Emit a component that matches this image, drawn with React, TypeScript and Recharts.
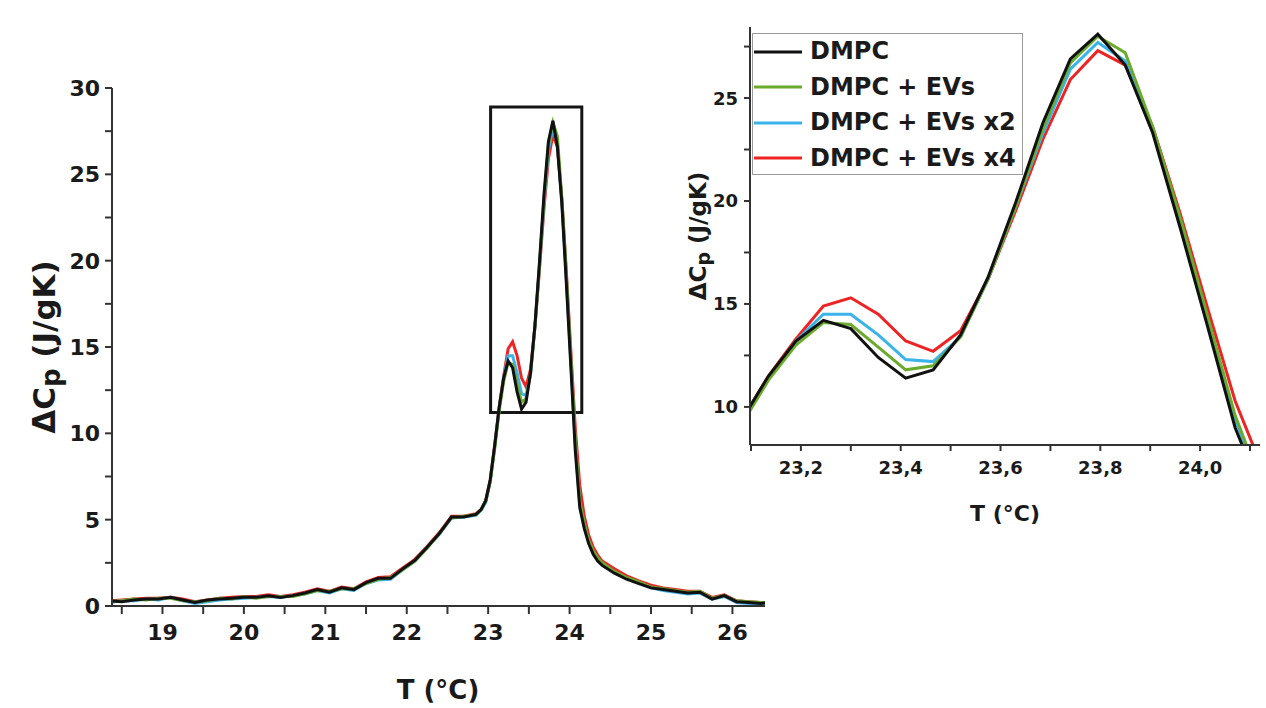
import React from 'react';
import { LineChart, Line, XAxis, YAxis, ReferenceArea, Legend } from 'recharts';

// Temperature grid (°C)
const TEMPS = [
  18.35, 18.5, 18.65, 18.8, 18.95, 19.1, 19.25, 19.4, 19.55, 19.7, 19.85, 20.0, 20.15, 20.3, 20.45, 20.6,
  20.75, 20.9, 21.05, 21.2, 21.35, 21.5, 21.65, 21.8, 21.95, 22.1, 22.25, 22.4, 22.55, 22.7, 22.85,
  22.915, 22.97, 23.025, 23.08, 23.135, 23.19, 23.245, 23.3, 23.355, 23.41, 23.465, 23.52, 23.575, 23.63,
  23.685, 23.74, 23.795, 23.85, 23.905, 23.96, 24.015, 24.07, 24.125, 24.18, 24.235, 24.29, 24.345, 24.4,
  24.55, 24.7, 24.85, 25.0, 25.15, 25.3, 25.45, 25.6, 25.75, 25.9, 26.05, 26.2, 26.35, 26.45,
];

// ΔCp (J/gK)
const DMPC = [
  0.3, 0.25, 0.35, 0.4, 0.4, 0.5, 0.35, 0.2, 0.35, 0.4, 0.45, 0.5, 0.5, 0.6, 0.5, 0.6,
  0.75, 0.95, 0.8, 1.05, 0.95, 1.35, 1.6, 1.6, 2.15, 2.65, 3.4, 4.2, 5.15, 5.15, 5.3,
  5.6, 6.1, 7.3, 9.3, 11.5, 13.2, 14.2, 13.8, 12.4, 11.4, 11.8, 13.5, 16.3, 19.9,
  23.8, 26.9, 28.1, 26.6, 23.3, 18.7, 13.9, 9.0, 5.7, 4.5, 3.6, 3.0, 2.6, 2.35,
  1.9, 1.55, 1.3, 1.05, 0.95, 0.85, 0.75, 0.8, 0.4, 0.6, 0.25, 0.2, 0.15, 0.2,
];
const DMPC_EVS = [
  0.25, 0.3, 0.4, 0.35, 0.45, 0.45, 0.3, 0.25, 0.3, 0.45, 0.4, 0.55, 0.45, 0.55, 0.55, 0.55,
  0.7, 0.9, 0.85, 1.0, 1.0, 1.3, 1.55, 1.65, 2.1, 2.6, 3.35, 4.2, 5.1, 5.2, 5.3,
  5.6, 6.1, 7.2, 9.1, 11.3, 13.0, 14.1, 14.0, 12.9, 11.8, 12.0, 13.4, 16.2, 19.7,
  23.5, 26.7, 28.0, 27.2, 23.6, 19.2, 14.4, 9.6, 6.1, 4.8, 3.8, 3.2, 2.8, 2.5,
  2.0, 1.65, 1.4, 1.1, 1.0, 0.9, 0.8, 0.85, 0.45, 0.6, 0.3, 0.25, 0.2, 0.2,
];
const DMPC_EVS_X2 = [
  0.2, 0.3, 0.3, 0.4, 0.35, 0.5, 0.3, 0.15, 0.25, 0.35, 0.4, 0.45, 0.5, 0.55, 0.5, 0.6,
  0.7, 0.9, 0.75, 1.0, 0.9, 1.3, 1.5, 1.55, 2.1, 2.6, 3.4, 4.15, 5.1, 5.15, 5.25,
  5.55, 6.0, 7.2, 9.2, 11.4, 13.2, 14.5, 14.5, 13.5, 12.3, 12.2, 13.4, 16.2, 19.7,
  23.3, 26.4, 27.7, 26.8, 23.4, 19.0, 14.2, 9.4, 5.9, 4.6, 3.7, 3.1, 2.7, 2.4,
  1.95, 1.6, 1.35, 1.05, 0.9, 0.8, 0.7, 0.75, 0.4, 0.55, 0.2, 0.15, 0.1, 0.15,
];
const DMPC_EVS_X4 = [
  0.3, 0.35, 0.4, 0.45, 0.45, 0.5, 0.4, 0.25, 0.35, 0.45, 0.5, 0.55, 0.55, 0.65, 0.55, 0.65,
  0.8, 1.0, 0.85, 1.1, 1.0, 1.4, 1.65, 1.7, 2.2, 2.7, 3.45, 4.25, 5.2, 5.2, 5.35,
  5.6, 6.1, 7.3, 9.3, 11.5, 13.3, 14.9, 15.3, 14.5, 13.2, 12.7, 13.7, 16.2, 19.5,
  23.0, 25.9, 27.3, 26.6, 23.6, 19.4, 14.8, 10.3, 7.0, 5.2, 4.1, 3.4, 2.95, 2.6,
  2.15, 1.75, 1.45, 1.2, 1.05, 0.95, 0.85, 0.85, 0.5, 0.65, 0.3, 0.25, 0.2, 0.2,
];

const SERIES_KEYS = ['dmpc', 'evs', 'evs2', 'evs4'];
const SERIES_NAMES = ['DMPC', 'DMPC + EVs', 'DMPC + EVs x2', 'DMPC + EVs x4'];
const SERIES_COLORS = ['#111111', '#6aab2e', '#3ab3ea', '#ee2424'];
const SERIES_VALUES = [DMPC, DMPC_EVS, DMPC_EVS_X2, DMPC_EVS_X4];

const MAIN_X_TICKS = [18.5, 19, 19.5, 20, 20.5, 21, 21.5, 22, 22.5, 23, 23.5, 24, 24.5, 25, 25.5, 26];
const MAIN_Y_TICKS = [0, 2.5, 5, 7.5, 10, 12.5, 15, 17.5, 20, 22.5, 25, 27.5, 30];
const INSET_X_TICKS = [23.1, 23.2, 23.3, 23.4, 23.5, 23.6, 23.7, 23.8, 23.9, 24.0, 24.1];
const INSET_Y_TICKS = [10, 12.5, 15, 17.5, 20, 22.5, 25, 27.5];

const ZOOM_X = [23.03, 24.15];
const ZOOM_Y = [11.2, 28.9];

const data = TEMPS.map((t, i) => {
  const row: any = { t };
  SERIES_KEYS.forEach((k, s) => { row[k] = SERIES_VALUES[s][i]; });
  return row;
});

const FONT = '"DejaVu Sans", Verdana, sans-serif';
const TXT = '#1a1a1a';
const AXIS = '#333333';
const DRAW_ORDER = [3, 2, 1, 0];

const isInt = (v: number) => Math.abs(v - Math.round(v)) < 1e-6;
const isFive = (v: number) => isInt(v) && Math.round(v) % 5 === 0;
const isEvenTenth = (v: number) => Math.round(v * 10) % 2 === 0;

const makeXTick = (size: number, major: (v: number) => boolean, fmt: (v: number) => string) => (props: any) => {
  const { x, y, payload } = props;
  if (!major(payload.value)) return <g />;
  return (
    <text x={x} y={y} dy="0.72em" textAnchor="middle" fontSize={size} fontWeight="bold" fontFamily={FONT} fill={TXT}>
      {fmt(payload.value)}
    </text>
  );
};
const makeYTick = (size: number, major: (v: number) => boolean, fmt: (v: number) => string) => (props: any) => {
  const { x, y, payload } = props;
  if (!major(payload.value)) return <g />;
  return (
    <text x={x} y={y} dy="0.36em" textAnchor="end" fontSize={size} fontWeight="bold" fontFamily={FONT} fill={TXT}>
      {fmt(payload.value)}
    </text>
  );
};

const yTitle = (cx: number, cy: number, size: number, sub: number, shift: number) => () => (
  <text
    x={cx}
    y={cy}
    transform={`rotate(-90 ${cx} ${cy})`}
    textAnchor="middle"
    dominantBaseline="central"
    fontSize={size}
    fontWeight="bold"
    fontFamily={FONT}
    fill={TXT}
  >
    ΔC<tspan dy={shift} fontSize={sub}>p</tspan><tspan dy={-shift}> (J/gK)</tspan>
  </text>
);
const xTitle = (cx: number, baseline: number, size: number) => () => (
  <text x={cx} y={baseline} textAnchor="middle" fontSize={size} fontWeight="bold" fontFamily={FONT} fill={TXT}>
    T (°C)
  </text>
);

const renderLegend = () => (
  <div
    style={{
      width: 271,
      height: 142,
      border: '1.5px solid #9a9a9a',
      boxSizing: 'border-box',
      background: '#fff',
    }}
  >
    {SERIES_NAMES.map((name, i) => (
      <div key={name} style={{ display: 'flex', alignItems: 'center', height: 35.5 }}>
        <svg width={50} height={6} style={{ marginLeft: 1, display: 'block' }}>
          <line x1={0} y1={3} x2={48} y2={3} stroke={SERIES_COLORS[i]} strokeWidth={3} />
        </svg>
        <span
          style={{
            marginLeft: 6,
            fontFamily: FONT,
            fontWeight: 'bold',
            fontSize: 24,
            color: TXT,
            whiteSpace: 'nowrap',
            lineHeight: '35px',
          }}
        >
          {name}
        </span>
      </div>
    ))}
  </div>
);

export default function App() {
  return (
    <div style={{ position: 'absolute', left: 0, top: 0, width: 1266, height: 708, background: '#fff', overflow: 'hidden' }}>
      <div style={{ position: 'absolute', left: 0, top: 0 }}>
        <LineChart width={800} height={708} data={data} margin={{ top: 88, right: 35, bottom: 2, left: 52 }}>
          <XAxis
            dataKey="t"
            type="number"
            domain={[18.38, 26.4]}
            allowDataOverflow
            ticks={MAIN_X_TICKS}
            interval={0}
            height={100}
            tickSize={8}
            tickMargin={10}
            axisLine={{ stroke: AXIS, strokeWidth: 2 }}
            tickLine={{ stroke: AXIS, strokeWidth: 2 }}
            tick={makeXTick(22, isInt, (v) => String(v))}
            label={xTitle(438, 699, 26)}
          />
          <YAxis
            type="number"
            domain={[0, 30]}
            allowDataOverflow
            ticks={MAIN_Y_TICKS}
            interval={0}
            width={60}
            tickSize={7}
            tickMargin={5}
            axisLine={{ stroke: AXIS, strokeWidth: 2 }}
            tickLine={{ stroke: AXIS, strokeWidth: 2 }}
            tick={makeYTick(22, isFive, (v) => String(v))}
            label={yTitle(44, 347, 31, 26, 7)}
          />
          {DRAW_ORDER.map((s) => (
            <Line
              key={SERIES_KEYS[s]}
              type="linear"
              dataKey={SERIES_KEYS[s]}
              name={SERIES_NAMES[s]}
              stroke={SERIES_COLORS[s]}
              strokeWidth={3}
              dot={false}
              activeDot={false}
              isAnimationActive={false}
            />
          ))}
          <ReferenceArea
            x1={ZOOM_X[0]}
            x2={ZOOM_X[1]}
            y1={ZOOM_Y[0]}
            y2={ZOOM_Y[1]}
            fill="none"
            fillOpacity={0}
            stroke="#151515"
            strokeWidth={3}
            ifOverflow="visible"
          />
        </LineChart>
      </div>
      <div style={{ position: 'absolute', left: 640, top: 0 }}>
        <LineChart width={626} height={560} data={data} margin={{ top: 27, right: 6, bottom: 35, left: 50 }}>
          <XAxis
            dataKey="t"
            type="number"
            domain={[23.098, 24.12]}
            allowDataOverflow
            ticks={INSET_X_TICKS}
            interval={0}
            height={80}
            tickSize={6}
            tickMargin={10}
            axisLine={{ stroke: AXIS, strokeWidth: 2 }}
            tickLine={{ stroke: AXIS, strokeWidth: 2 }}
            tick={makeXTick(18, isEvenTenth, (v) => v.toFixed(1).replace('.', ','))}
            label={xTitle(365, 521, 22)}
          />
          <YAxis
            type="number"
            domain={[8.15, 28.45]}
            allowDataOverflow
            ticks={INSET_Y_TICKS}
            interval={0}
            width={60}
            tickSize={6}
            tickMargin={6}
            axisLine={{ stroke: AXIS, strokeWidth: 2 }}
            tickLine={{ stroke: AXIS, strokeWidth: 2 }}
            tick={makeYTick(18, isFive, (v) => String(v))}
            label={yTitle(58, 236, 23, 19, 5)}
          />
          {DRAW_ORDER.map((s) => (
            <Line
              key={SERIES_KEYS[s]}
              type="linear"
              dataKey={SERIES_KEYS[s]}
              name={SERIES_NAMES[s]}
              stroke={SERIES_COLORS[s]}
              strokeWidth={3}
              dot={false}
              activeDot={false}
              isAnimationActive={false}
            />
          ))}
          <Legend
            layout="vertical"
            align="center"
            verticalAlign="middle"
            content={renderLegend}
            wrapperStyle={{ left: 112, top: 33, width: 271, height: 142 }}
          />
        </LineChart>
      </div>
    </div>
  );
}
